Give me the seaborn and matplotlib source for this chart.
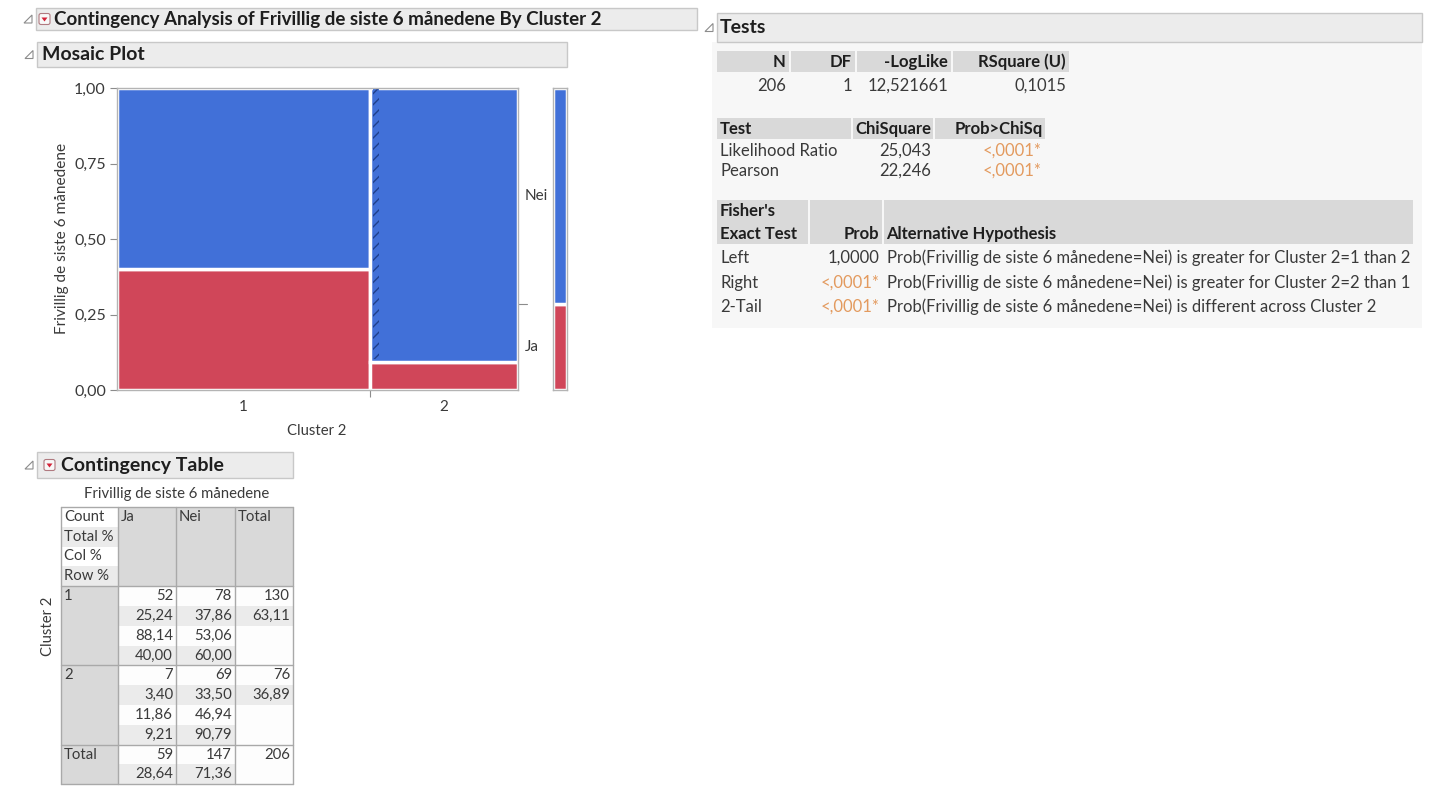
import numpy as np
import pandas as pd
import matplotlib.pyplot as plt
from matplotlib.patches import Rectangle, Polygon, FancyBboxPatch
import matplotlib.transforms as mtransforms
import seaborn as sns


# contingency counts: rows = Cluster 2, columns = Frivillig de siste 6 månedene
clusters = ['1', '2']
answers = ['Ja', 'Nei']
count_ja = [52, 7]
count_nei = [78, 69]
row_totals = [130, 76]
col_totals = [59, 147]
grand_total = 206

# percentages as printed in the table
total_pct = [['25,24', '37,86', '63,11'], ['3,40', '33,50', '36,89']]
col_pct = [['88,14', '53,06'], ['11,86', '46,94']]
row_pct = [['40,00', '60,00'], ['9,21', '90,79']]
total_row_pct = ['28,64', '71,36']

# tests
summary_cols = ['N', 'DF', '-LogLike', 'RSquare (U)']
summary_vals = ['206', '1', '12,521661', '0,1015']
test_names = ['Likelihood Ratio', 'Pearson']
chisq_vals = ['25,043', '22,246']
chisq_probs = ['<,0001*', '<,0001*']
fisher_names = ['Left', 'Right', '2-Tail']
fisher_probs = ['1,0000', '<,0001*', '<,0001*']
fisher_hyp = [
    'Prob(Frivillig de siste 6 månedene=Nei) is greater for Cluster 2=1 than 2',
    'Prob(Frivillig de siste 6 månedene=Nei) is greater for Cluster 2=2 than 1',
    'Prob(Frivillig de siste 6 månedene=Nei) is different across Cluster 2',
]

BLUE = '#4170D8'
RED = '#D04659'
ORANGE = '#E39A5E'
TXT = '#3a3a3a'
HEAD = '#1e1e1e'
GRID = '#a9a9a9'
CELL = '#d9d9d9'
STRIPE = '#ebebeb'
FS_HEAD = 14
FS_TEST = 12
FS_TAB = 10.7

sns.set_theme(style='ticks')
plt.rcParams['font.family'] = ['Lato', 'DejaVu Sans']

W, H = 1432, 789
fig = plt.figure(figsize=(W / 100, H / 100), dpi=100, facecolor='white')

# pixel overlay for the report frame and tables
ov = fig.add_axes([0, 0, 1, 1], zorder=0)
ov.set_xlim(0, W)
ov.set_ylim(H, 0)
ov.axis('off')


def fax(x0, y0, x1, y1):
    return [x0 / W, 1 - y1 / H, (x1 - x0) / W, (y1 - y0) / H]


def rect(x0, y0, x1, y1, fc, ec='none', lw=0):
    ov.add_patch(Rectangle((x0, y0), x1 - x0, y1 - y0, fc=fc, ec=ec, lw=lw))


def txt(x, y, s, ha='left', size=FS_TAB, color=TXT, weight='normal', **kw):
    ov.text(x, y, s, ha=ha, va='center', fontsize=size, color=color,
            fontweight=weight, **kw)


def header_bar(x0, y0, x1, y1, title, tx, hot=None, size=FS_HEAD):
    rect(x0, y0, x1, y1, '#ececec', '#c8c8c8', 1)
    ym = (y0 + y1) / 2
    dx = x0 - 12
    ov.add_patch(Polygon([[dx, ym + 4], [dx + 8, ym + 4], [dx + 8, ym - 4]],
                         closed=True, fc='none', ec='#8c8c8c', lw=0.8))
    if hot is not None:
        ov.add_patch(FancyBboxPatch((hot, ym - 5.5), 11, 11,
                                    boxstyle='round,pad=0,rounding_size=2',
                                    fc='#f8f8f8', ec='#b07a80', lw=0.8))
        ov.add_patch(Polygon([[hot + 2.5, ym - 1.5], [hot + 8.5, ym - 1.5],
                              [hot + 5.5, ym + 2.5]], fc='#d42238', ec='none'))
    txt(tx, ym, title, size=size, color=HEAD, weight='bold')


# ---- report frame ----
header_bar(36, 8, 697, 30, 'Contingency Analysis of Frivillig de siste 6 månedene By Cluster 2',
           54, hot=39, size=13.5)
header_bar(37, 42, 567, 67, 'Mosaic Plot', 42)
header_bar(37, 452, 293, 478, 'Contingency Table', 61, hot=44)
rect(712, 42, 1422, 328, '#f7f7f7')
header_bar(717, 13, 1422, 42, 'Tests', 720)

# ---- mosaic plot ----
col_n = np.array(row_totals)
edges = [0.0] + list(np.cumsum(col_n) / col_n.sum())
mids = [(a + b) / 2 for a, b in zip(edges[:-1], edges[1:])]
mosaic = pd.DataFrame({
    'x': [m for m in mids for _ in answers],
    'answer': answers * len(clusters),
    'n': [v for pair in zip(count_ja, count_nei) for v in pair],
})

ax = fig.add_axes(fax(117, 88, 518, 390), zorder=2)
sns.histplot(data=mosaic, x='x', hue='answer', weights='n', bins=edges,
             multiple='fill', hue_order=answers[::-1],
             palette={'Ja': RED, 'Nei': BLUE}, alpha=1, edgecolor='white',
             linewidth=2.5, legend=False, ax=ax)
ax.set_xlim(0, 1)
ax.set_ylim(0, 1)
ax.set_facecolor('white')
ax.set_xlabel('')
ax.set_ylabel('')
ja_share = np.array(count_ja) / col_n
# hatched strip at the left of the second column
ax.add_patch(Rectangle((edges[1] + 0.007, ja_share[1] + 0.012), 0.016,
                       1 - ja_share[1] - 0.016, fc=BLUE, ec='#1f3f8c',
                       hatch='///', lw=0))
for s in ax.spines.values():
    s.set_color('#b4b4b4')
    s.set_linewidth(1)
ax.set_yticks([0, 0.25, 0.5, 0.75, 1.0])
ax.set_yticklabels(['0,00', '0,25', '0,50', '0,75', '1,00'])
ax.set_xticks(mids)
ax.set_xticklabels(clusters)
ax.set_xticks(edges[1:-1], minor=True)
ax.tick_params(direction='out', length=5, width=0.8, color='#8c8c8c',
               labelsize=11.5, labelcolor=TXT, pad=3)
ax.tick_params(axis='x', which='major', length=0, pad=7, labelsize=11)
ax.tick_params(axis='x', which='minor', length=5, width=0.8, color='#8c8c8c')

# marginal labels on the right
marg = np.array(col_totals) / grand_total
trans = mtransforms.blended_transform_factory(ax.transAxes, ax.transData)
ax.text(1.016, marg[0] / 2, 'Ja', transform=trans, ha='left', va='center',
        fontsize=11, color=TXT)
ax.text(1.016, marg[0] + marg[1] / 2, 'Nei', transform=trans, ha='left',
        va='center', fontsize=11, color=TXT)
ax.plot([1.0, 1.022], [marg[0], marg[0]], transform=trans, color='#8c8c8c',
        lw=0.8, clip_on=False)

# marginal bar
axm = fig.add_axes(fax(553, 88, 567, 390), zorder=2)
margin = pd.DataFrame({'x': [0.5, 0.5], 'answer': answers, 'n': col_totals})
sns.histplot(data=margin, x='x', hue='answer', weights='n', bins=[0.0, 1.0],
             multiple='fill', hue_order=answers[::-1],
             palette={'Ja': RED, 'Nei': BLUE}, alpha=1, edgecolor='white',
             linewidth=2.5, legend=False, ax=axm)
axm.set_xlim(0, 1)
axm.set_ylim(0, 1)
axm.set_xticks([])
axm.set_yticks([])
axm.set_xlabel('')
axm.set_ylabel('')
for s in axm.spines.values():
    s.set_color('#b4b4b4')
    s.set_linewidth(1)

txt(62, 238, 'Frivillig de siste 6 månedene', ha='center', rotation=90,
    size=11.1)
txt(317, 431, 'Cluster 2', ha='center', size=10.7)

# ---- contingency table ----
cx = [61, 118, 176, 235, 293]
lh = 19.8
y0 = 507
sec_lines = [4, 4, 4, 2]
sec_top = [y0]
for nl in sec_lines:
    sec_top.append(sec_top[-1] + nl * lh)

txt((cx[0] + cx[-1]) / 2, 494, 'Frivillig de siste 6 månedene', ha='center')
txt(48, 626, 'Cluster 2', ha='center', rotation=90)

# header section
stat_names = ['Count', 'Total %', 'Col %', 'Row %']
for i, name in enumerate(stat_names):
    yt = y0 + i * lh
    rect(cx[0], yt, cx[1], yt + lh, 'white' if i % 2 == 0 else STRIPE)
    txt(cx[0] + 3, yt + lh / 2, name)
rect(cx[1], y0, cx[-1], sec_top[1], CELL)
for j, name in enumerate(answers + ['Total']):
    txt(cx[j + 1] + 3, y0 + lh / 2, name)

# body sections
body = []
for r in range(len(clusters)):
    body.append((clusters[r], [
        [str(count_ja[r]), str(count_nei[r]), str(row_totals[r])],
        total_pct[r],
        col_pct[r],
        row_pct[r],
    ]))
body.append(('Total', [[str(col_totals[0]), str(col_totals[1]), str(grand_total)],
                       total_row_pct]))

for k, (label, lines) in enumerate(body):
    top = sec_top[k + 1]
    bot = sec_top[k + 2]
    rect(cx[0], top, cx[1], bot, CELL)
    rect(cx[1], top, cx[-1], bot, '#fdfdfd')
    txt(cx[0] + 3, top + lh / 2, label)
    for i, vals in enumerate(lines):
        yt = top + i * lh
        for j, v in enumerate(vals):
            if i % 2 == 1:
                rect(cx[j + 1], yt, cx[j + 2], yt + lh, STRIPE)
            txt(cx[j + 2] - 3, yt + lh / 2, v, ha='right')

for x in cx:
    ov.plot([x, x], [y0, sec_top[-1]], color=GRID, lw=1)
for y in sec_top:
    ov.plot([cx[0], cx[-1]], [y, y], color=GRID, lw=1)

# ---- tests tables ----
# summary
s_edges = [716, 790, 856, 952, 1070]
for j, (c, v) in enumerate(zip(summary_cols, summary_vals)):
    rect(s_edges[j] + 1, 51, s_edges[j + 1] - 1, 72, CELL)
    txt(s_edges[j + 1] - 4, 61.5, c, ha='right', weight='bold', color=HEAD,
        size=FS_TEST)
    txt(s_edges[j + 1] - 4, 86, v, ha='right', size=FS_TEST)

# chi-square tests
t_edges = [716, 852, 934, 1046]
for j, c in enumerate(['Test', 'ChiSquare', 'Prob>ChiSq']):
    rect(t_edges[j] + 1, 118, t_edges[j + 1] - 1, 139, CELL)
    txt(t_edges[j] + 4 if j == 0 else t_edges[j + 1] - 3, 128.5, c,
        ha='left' if j == 0 else 'right', weight='bold', color=HEAD,
        size=FS_TEST)
for i, (nm, cv, pv) in enumerate(zip(test_names, chisq_vals, chisq_probs)):
    yy = 151 + i * 19.5
    txt(720, yy, nm, size=FS_TEST)
    txt(t_edges[2] - 3, yy, cv, ha='right', size=FS_TEST)
    txt(t_edges[3] - 4, yy, pv, ha='right', color=ORANGE, size=FS_TEST)

# Fisher's exact test
f_edges = [716, 809, 883, 1414]
for j in range(3):
    rect(f_edges[j] + 1, 200, f_edges[j + 1] - 1, 244, CELL)
txt(720, 211, "Fisher's", weight='bold', color=HEAD, size=FS_TEST)
txt(720, 234, 'Exact Test', weight='bold', color=HEAD, size=FS_TEST)
txt(f_edges[2] - 4, 234, 'Prob', ha='right', weight='bold', color=HEAD,
    size=FS_TEST)
txt(f_edges[2] + 3, 234, 'Alternative Hypothesis', weight='bold', color=HEAD,
    size=FS_TEST)
for i, (nm, pv, hy) in enumerate(zip(fisher_names, fisher_probs, fisher_hyp)):
    yy = 258 + i * 24.5
    txt(720, yy, nm, size=FS_TEST)
    txt(f_edges[2] - 4, yy, pv, ha='right',
        color=ORANGE if pv.startswith('<') else TXT, size=FS_TEST)
    txt(f_edges[2] + 4, yy, hy, size=FS_TEST)

fig.savefig('out.png', dpi=100, facecolor=fig.get_facecolor())
